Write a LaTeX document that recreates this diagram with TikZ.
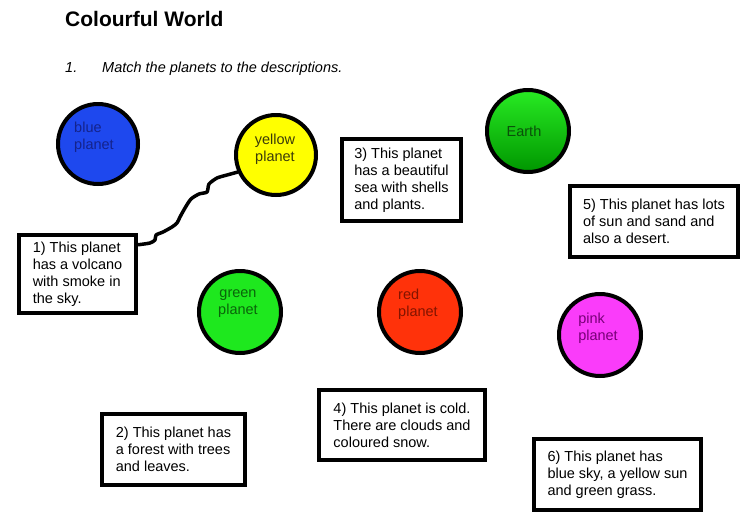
\documentclass[tikz,border=0pt]{standalone}
\usepackage{fontspec}
\setmainfont{Liberation Sans}
\usetikzlibrary{shapes.geometric}
\definecolor{pblue}{RGB}{30,72,238}
\definecolor{tblue}{RGB}{20,35,140}
\definecolor{pyellow}{RGB}{255,255,0}
\definecolor{tyellow}{RGB}{60,60,10}
\definecolor{pgreen}{RGB}{30,232,30}
\definecolor{tgreen}{RGB}{10,100,10}
\definecolor{pred}{RGB}{255,50,10}
\definecolor{tred}{RGB}{130,20,0}
\definecolor{ppink}{RGB}{250,60,250}
\definecolor{tpink}{RGB}{120,0,120}
\definecolor{etop}{RGB}{40,235,35}
\definecolor{emid}{RGB}{55,255,45}
\definecolor{ebot}{RGB}{0,150,0}
\definecolor{tearth}{RGB}{10,80,10}
\tikzset{
  body/.style={font=\fontsize{14.5}{17}\selectfont},
  planet/.style={circle, draw=black, line width=4pt, minimum size=82pt, inner sep=0pt},
  desc/.style={rectangle, draw=black, line width=4.5pt, fill=white, body, align=left, inner sep=0pt},
  plabel/.style={body, align=left},
  conn/.style={draw=black, line width=3.5pt, line join=round, line cap=round},
}
\begin{document}
\begin{tikzpicture}[x=1pt, y=-1pt]
\useasboundingbox[fill=white] (0,0) rectangle (748,517);

% heading
\node[anchor=base west, inner sep=0pt, font=\fontsize{21}{25}\selectfont\bfseries] (title) at (65,26) {Colourful World};
\node[anchor=base west, inner sep=0pt, body, font=\fontsize{14.5}{17}\selectfont\itshape] (num) at (65,72) {1.};
\node[anchor=base west, inner sep=0pt, body, font=\fontsize{14.5}{17}\selectfont\itshape] (task) at (102,72) {Match the planets to the descriptions.};

% planets
\node[planet, fill=pblue, minimum size=80pt,
  label={[plabel, text=tblue, xshift=-4pt, yshift=7pt]center:blue\\planet}] (blue) at (98,144) {};
\node[planet, fill=pyellow, minimum size=80pt,
  label={[plabel, text=tyellow, align=center, xshift=-1pt, yshift=6pt]center:yellow\\planet}] (yellow) at (276,155) {};
\node[planet, fill=pgreen,
  label={[plabel, text=tgreen, align=center, xshift=-2pt, yshift=8pt]center:green\\planet}] (green) at (240,312) {};
\node[planet, fill=pred,
  label={[plabel, text=tred, xshift=-2pt, yshift=8pt]center:red\\planet}] (red) at (420,312) {};
\node[planet, top color=etop, middle color=emid, bottom color=ebot,
  label={[plabel, text=tearth, xshift=-4pt, yshift=0pt]center:Earth}] (earth) at (528,131) {};
\node[planet, fill=ppink,
  label={[plabel, text=tpink, xshift=-2pt, yshift=7pt]center:pink\\planet}] (pink) at (600,335) {};

% descriptions
\node[desc, minimum width=117pt, minimum height=78pt] (b1) at (77.5,274)
  {1) This planet\\has a volcano\\with smoke in\\the sky.};
\node[desc, minimum width=143pt, minimum height=71pt] (b2) at (173.5,449.5)
  {2) This planet has\\a forest with trees\\and leaves.};
\node[desc, minimum width=119pt, minimum height=82pt] (b3) at (401.5,180)
  {3) This planet\\has a beautiful\\sea with shells\\and plants.};
\node[desc, minimum width=166pt, minimum height=70pt] (b4) at (402,425)
  {4) This planet is cold.\\There are clouds and\\coloured snow.};
\node[desc, minimum width=168pt, minimum height=71pt] (b5) at (654,221.5)
  {5) This planet has lots\\of sun and sand and\\also a desert.};
\node[desc, minimum width=167pt, minimum height=71pt] (b6) at (617.5,474.5)
  {6) This planet has\\blue sky, a yellow sun\\and green grass.};

% wavy connector from box 1 to the yellow planet
\coordinate (cstart) at ([yshift=-12pt]b1.north east);
\draw[conn] plot[smooth, tension=0.4] coordinates {
  (cstart) (150,243) (155,240) (156,235) (163,232) (172,227) (177,223)
  (180,217) (185,208) (191,199) (199,194) (207,192) (209,184) (217,178)
  (227,175) (yellow.204)};
\end{tikzpicture}
\end{document}
